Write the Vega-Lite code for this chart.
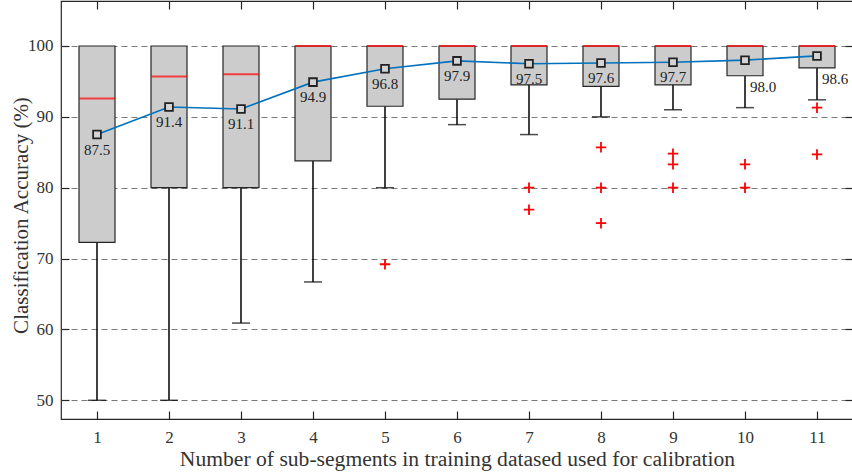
{
  "$schema": "https://vega.github.io/schema/vega-lite/v6.json",
  "width": 792,
  "height": 418,
  "autosize": "none",
  "padding": {"left": 61, "top": 1, "right": 0, "bottom": 54},
  "background": "white",
  "config": {
    "view": {"stroke": "#262626", "strokeWidth": 1.2},
    "font": "Liberation Serif"
  },
  "datasets": {
    "boxes": [
      {"x": 1, "lower": 50, "q1": 72.3, "median": 92.6, "q3": 100, "mean": 87.5},
      {"x": 2, "lower": 50, "q1": 80, "median": 95.7, "q3": 100, "mean": 91.4},
      {"x": 3, "lower": 60.9, "q1": 80, "median": 96.0, "q3": 100, "mean": 91.1},
      {"x": 4, "lower": 66.7, "q1": 83.8, "median": 100, "q3": 100, "mean": 94.9},
      {"x": 5, "lower": 80, "q1": 91.5, "median": 100, "q3": 100, "mean": 96.8},
      {"x": 6, "lower": 88.9, "q1": 92.5, "median": 100, "q3": 100, "mean": 97.9},
      {"x": 7, "lower": 87.5, "q1": 94.5, "median": 100, "q3": 100, "mean": 97.5},
      {"x": 8, "lower": 90, "q1": 94.3, "median": 100, "q3": 100, "mean": 97.6},
      {"x": 9, "lower": 91.0, "q1": 94.5, "median": 100, "q3": 100, "mean": 97.7},
      {"x": 10, "lower": 91.3, "q1": 95.8, "median": 100, "q3": 100, "mean": 98.0},
      {"x": 11, "lower": 92.4, "q1": 96.9, "median": 100, "q3": 100, "mean": 98.6}
    ],
    "outliers": [
      {"x": 5, "y": 69.2},
      {"x": 7, "y": 80}, {"x": 7, "y": 76.9},
      {"x": 8, "y": 85.7}, {"x": 8, "y": 80}, {"x": 8, "y": 75.0},
      {"x": 9, "y": 84.8}, {"x": 9, "y": 83.3}, {"x": 9, "y": 80},
      {"x": 10, "y": 83.3}, {"x": 10, "y": 80},
      {"x": 11, "y": 91.3}, {"x": 11, "y": 84.7}
    ]
  },
  "layer": [
    {
      "data": {"name": "boxes"},
      "mark": {"type": "rule", "color": "#000000", "strokeWidth": 1.5},
      "encoding": {
        "x": {"field": "x", "type": "quantitative",
          "scale": {"domain": [0.5, 11.5], "nice": false, "zero": false, "padding": 0},
          "axis": {"orient": "bottom", "values": [1,2,3,4,5,6,7,8,9,10,11], "tickSize": -8, "tickColor": "#262626", "tickWidth": 1.2,
            "domain": false, "grid": false, "labelFontSize": 17, "labelColor": "#333333", "labelPadding": 18,
            "title": "Number of sub-segments in training datased used for calibration", "titleFontSize": 21.6, "titleFontWeight": "normal", "titleColor": "#333333", "titlePadding": 3}},
        "y": {"field": "lower", "type": "quantitative",
          "scale": {"domain": [47.36, 106.35], "nice": false, "zero": false, "padding": 0},
          "axis": {"orient": "left", "values": [50,60,70,80,90,100], "tickSize": -8, "tickColor": "#262626", "tickWidth": 1.2,
            "domain": false, "grid": true, "gridColor": "#7a7a7a", "gridDash": [6, 4], "gridWidth": 1.2,
            "labelFontSize": 17, "labelColor": "#333333", "labelPadding": 16,
            "title": "Classification Accuracy (%)", "titleFontSize": 21, "titleFontWeight": "normal", "titleColor": "#333333",
            "titleX": -30, "titleY": 214, "titleAngle": -90, "titleBaseline": "bottom", "titleAlign": "center"}},
        "y2": {"field": "q1"}
      }
    },
    {
      "data": {"name": "boxes"},
      "mark": {"type": "tick", "orient": "horizontal", "size": 18, "thickness": 1.5, "color": "#000000"},
      "encoding": {
        "x": {"field": "x", "type": "quantitative", "axis": null},
        "y": {"field": "lower", "type": "quantitative", "axis": null}
      }
    },
    {
      "data": {"name": "boxes"},
      "mark": {"type": "bar", "width": 36, "fill": "#cccccc", "stroke": "#262626", "strokeWidth": 1.2},
      "encoding": {
        "x": {"field": "x", "type": "quantitative",
          "axis": {"orient": "top", "values": [1,2,3,4,5,6,7,8,9,10,11], "tickSize": -8, "tickColor": "#262626", "tickWidth": 1.2, "domain": false, "grid": false, "labels": false, "title": null}},
        "y": {"field": "q1", "type": "quantitative",
          "axis": {"orient": "right", "values": [50,60,70,80,90,100], "tickSize": -8, "tickColor": "#262626", "tickWidth": 1.2, "domain": false, "grid": false, "labels": false, "title": null}},
        "y2": {"field": "q3"}
      }
    },
    {
      "data": {"name": "boxes"},
      "mark": {"type": "tick", "orient": "horizontal", "size": 36, "thickness": 2, "color": "#ff0000"},
      "encoding": {
        "x": {"field": "x", "type": "quantitative", "axis": null},
        "y": {"field": "median", "type": "quantitative", "axis": null}
      }
    },
    {
      "data": {"name": "boxes"},
      "mark": {"type": "line", "color": "#0072BD", "strokeWidth": 1.6},
      "encoding": {
        "x": {"field": "x", "type": "quantitative", "axis": null},
        "y": {"field": "mean", "type": "quantitative", "axis": null}
      }
    },
    {
      "data": {"name": "boxes"},
      "mark": {"type": "point", "shape": "square", "size": 60, "filled": true, "fill": "#d4d4d4", "stroke": "#222222", "strokeWidth": 1.8, "opacity": 1},
      "encoding": {
        "x": {"field": "x", "type": "quantitative", "axis": null},
        "y": {"field": "mean", "type": "quantitative", "axis": null}
      }
    },
    {
      "data": {"name": "boxes"},
      "transform": [{"filter": "datum.x <= 9"}],
      "mark": {"type": "text", "fontSize": 15, "color": "#222222", "baseline": "middle", "align": "center", "dy": 15},
      "encoding": {
        "x": {"field": "x", "type": "quantitative", "axis": null},
        "y": {"field": "mean", "type": "quantitative", "axis": null},
        "text": {"field": "mean", "type": "quantitative", "format": ".1f"}
      }
    },
    {
      "data": {"name": "boxes"},
      "transform": [{"filter": "datum.x == 10"}],
      "mark": {"type": "text", "fontSize": 15, "color": "#222222", "baseline": "middle", "align": "left", "dx": 5, "dy": 27},
      "encoding": {
        "x": {"field": "x", "type": "quantitative", "axis": null},
        "y": {"field": "mean", "type": "quantitative", "axis": null},
        "text": {"field": "mean", "type": "quantitative", "format": ".1f"}
      }
    },
    {
      "data": {"name": "boxes"},
      "transform": [{"filter": "datum.x == 11"}],
      "mark": {"type": "text", "fontSize": 15, "color": "#222222", "baseline": "middle", "align": "left", "dx": 5, "dy": 23},
      "encoding": {
        "x": {"field": "x", "type": "quantitative", "axis": null},
        "y": {"field": "mean", "type": "quantitative", "axis": null},
        "text": {"field": "mean", "type": "quantitative", "format": ".1f"}
      }
    },
    {
      "data": {"name": "outliers"},
      "mark": {"type": "point", "shape": "M-1,0H1M0,-1V1", "size": 110, "filled": false, "color": "#ff0000", "strokeWidth": 1.8, "opacity": 1},
      "encoding": {
        "x": {"field": "x", "type": "quantitative", "axis": null},
        "y": {"field": "y", "type": "quantitative", "axis": null}
      }
    }
  ],
  "resolve": {"axis": {"x": "independent", "y": "independent"}}
}
